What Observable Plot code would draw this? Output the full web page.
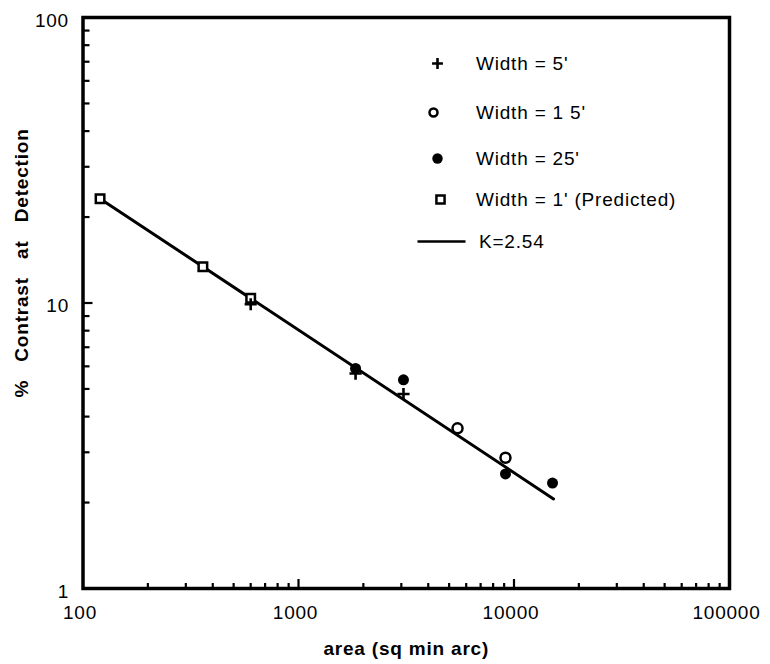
<!DOCTYPE html>
<html>
<head>
<meta charset="utf-8">
<script src="https://cdn.jsdelivr.net/npm/d3@7"></script>
<script src="https://cdn.jsdelivr.net/npm/@observablehq/plot@0.6"></script>
<style>
  html, body { margin: 0; padding: 0; background: #fff; }
</style>
</head>
<body>
<div id="chart"></div>
<script>
// Contrast threshold at detection vs. target area, by target width.
const width5Area = [600, 1840, 3070];
const width5Contrast = [9.9, 5.66, 4.8];
const width15Area = [5470, 9130];
const width15Contrast = [3.64, 2.87];
const width25Area = [1840, 3070, 9130, 15090];
const width25Contrast = [5.9, 5.38, 2.52, 2.34];
const width1Area = [120, 360, 600];
const width1Contrast = [23.2, 13.4, 10.4];
const fitArea = [120, 15260];
const fitContrast = [23.2, 2.06];

const xTicks = [100, 1000, 10000, 100000];
const yTicks = [1, 10, 100];
const legendLabels = ["Width = 5'", "Width = 1 5'", "Width = 25'", "Width = 1' (Predicted)", "K=2.54"];
const xTitle = "area (sq min arc)";
const yTitle = "%\u00A0\u00A0\u00A0Contrast\u00A0\u00A0\u00A0at\u00A0\u00A0\u00A0Detection";

const zip = (a, c) => a.map((v, i) => ({area: v, contrast: c[i]}));
const width5 = zip(width5Area, width5Contrast);
const width15 = zip(width15Area, width15Contrast);
const width25 = zip(width25Area, width25Contrast);
const width1 = zip(width1Area, width1Contrast);
const fit = zip(fitArea, fitContrast);

// minor tick positions on the log axes
const xMinor = [100, 1000, 10000].flatMap(d => d3.range(2, 10).map(k => k * d));
const yMinor = [1, 10].flatMap(d => d3.range(2, 10).map(k => k * d));

const W = 770, H = 664;
const mL = 82.5, mR = 41, mT = 17, mB = 76;
const innerW = W - mL - mR, innerH = H - mT - mB;

// a horizontal stroke used as the legend key for the fitted line
const lineKey = {draw(ctx) { ctx.moveTo(-24, 0); ctx.lineTo(24, 0); }};

const legendRow = (i, dxSym, dy, symOpts) => [
  Plot.dot([0], {frameAnchor: "top-left", dx: dxSym, dy, ...symOpts}),
  Plot.text([legendLabels[i]], {frameAnchor: "top-left", dx: i === 4 ? 396 : 393, dy, textAnchor: "start", lineAnchor: "middle", fontSize: 19})
];

const chart = Plot.plot({
  width: W,
  height: H,
  marginLeft: mL,
  marginRight: mR,
  marginTop: mT,
  marginBottom: mB,
  style: {fontFamily: "'Liberation Sans', Arial, sans-serif", fontSize: "19px", color: "black", background: "white", letterSpacing: "0.8px"},
  x: {type: "log", domain: [100, 100000]},
  y: {type: "log", domain: [1, 100]},
  marks: [
    // inward tick marks
    Plot.ruleX(xMinor, {stroke: "black", strokeWidth: 2.2, insetTop: innerH - 5}),
    Plot.ruleX([1000, 10000], {stroke: "black", strokeWidth: 2.2, insetTop: innerH - 9}),
    Plot.ruleY(yMinor, {stroke: "black", strokeWidth: 2.2, insetRight: innerW - 7}),
    Plot.ruleY([10], {stroke: "black", strokeWidth: 2.2, insetRight: innerW - 10}),
    Plot.frame({stroke: "black", strokeWidth: 3.5}),
    Plot.axisX({ticks: xTicks, tickSize: 0, tickPadding: 17, tickFormat: d => String(d), label: null, fontSize: 19, dx: -3}),
    Plot.axisY({ticks: yTicks, tickSize: 0, tickPadding: 14, tickFormat: d => String(d), label: null, fontSize: 19, dy: 3}),
    Plot.text([xTitle], {frameAnchor: "bottom", dy: 60, lineAnchor: "middle", fontWeight: "bold", fontSize: 19}),
    Plot.text([yTitle], {frameAnchor: "left", rotate: -90, dx: -61, dy: -40, lineAnchor: "middle", textAnchor: "middle", fontWeight: "bold", fontSize: 19}),
    // fitted K=2.54 line and measurements
    Plot.line(fit, {x: "area", y: "contrast", stroke: "black", strokeWidth: 3}),
    Plot.dot(width1, {x: "area", y: "contrast", symbol: "square", r: 4.8, stroke: "black", strokeWidth: 2.5, fill: "white"}),
    Plot.dot(width5, {x: "area", y: "contrast", symbol: "plus", r: 4, stroke: "black", strokeWidth: 2.6}),
    Plot.dot(width15, {x: "area", y: "contrast", symbol: "circle", r: 5, stroke: "black", strokeWidth: 2.5, fill: "white"}),
    Plot.dot(width25, {x: "area", y: "contrast", symbol: "circle", r: 5.5, fill: "black", stroke: "none"}),
    // legend
    ...legendRow(0, 354.5, 46, {symbol: "plus", r: 3.6, stroke: "black", strokeWidth: 2.6}),
    ...legendRow(1, 350.5, 95, {symbol: "circle", r: 4, stroke: "black", strokeWidth: 2.5, fill: "white"}),
    ...legendRow(2, 354.5, 141, {symbol: "circle", r: 5.2, fill: "black", stroke: "none"}),
    ...legendRow(3, 357.5, 182, {symbol: "square", r: 4.6, stroke: "black", strokeWidth: 2.5, fill: "white"}),
    ...legendRow(4, 358.5, 224, {symbol: lineKey, stroke: "black", strokeWidth: 2.5})
  ]
});

document.getElementById("chart").appendChild(chart);
</script>
</body>
</html>
